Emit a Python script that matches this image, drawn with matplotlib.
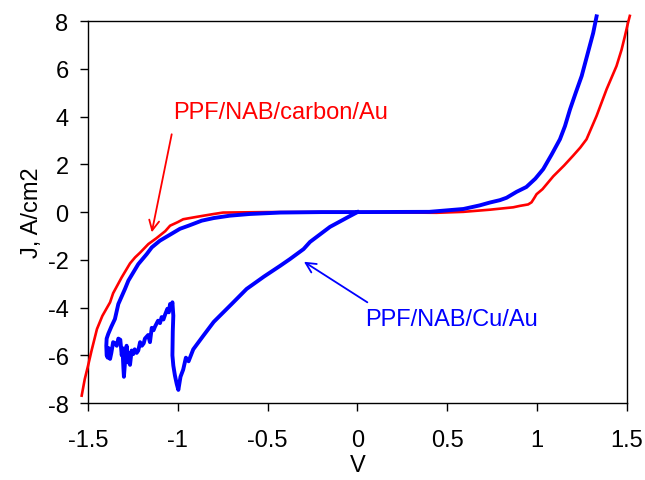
import matplotlib
matplotlib.use("Agg")
import matplotlib.pyplot as plt

plt.rcParams['font.family'] = ['Liberation Sans', 'DejaVu Sans']
plt.rcParams['axes.unicode_minus'] = False

# PPF/NAB/carbon/Au sweep
red_v = [-1.535, -1.518, -1.5, -1.48, -1.45, -1.42, -1.377, -1.36, -1.312, -1.266,
         -1.238, -1.21, -1.164, -1.12, -1.07, -1.043, -1.0, -0.97, -0.895, -0.8,
         -0.748, -0.5, 0.0, 0.44, 0.59, 0.737, 0.867, 0.904, 0.95, 0.969,
         0.985, 0.997, 1.03, 1.09, 1.15, 1.2, 1.24, 1.275, 1.331, 1.387,
         1.442, 1.47, 1.489, 1.505, 1.516]
red_j = [-7.69, -7.0, -6.45, -5.8, -4.9, -4.35, -3.78, -3.4, -2.73, -2.15,
         -1.9, -1.7, -1.34, -1.1, -0.8, -0.57, -0.42, -0.3, -0.2, -0.08,
         -0.02, 0.0, 0.0, -0.03, 0.01, 0.1, 0.2, 0.26, 0.32, 0.41,
         0.6, 0.75, 0.96, 1.5, 1.95, 2.36, 2.7, 3.05, 4.03, 5.15,
         6.12, 6.8, 7.38, 7.9, 8.22]

# PPF/NAB/Cu/Au sweep (lower branch, breakdown, noisy part, upper branch)
blue_v = [0.0, -0.05, -0.153, -0.264, -0.3, -0.376, -0.43, -0.52, -0.617, -0.7,
          -0.8, -0.86, -0.914, -0.94, -0.955, -0.97, -0.985, -0.997, -1.006, -1.016,
          -1.025, -1.03, -1.028, -1.025, -1.03, -1.036, -1.043, -1.05, -1.058, -1.071,
          -1.08, -1.09, -1.099, -1.11, -1.127, -1.135, -1.145, -1.155, -1.165, -1.183,
          -1.19, -1.2, -1.21, -1.22, -1.229, -1.24, -1.248, -1.257, -1.266, -1.27,
          -1.276, -1.285, -1.29, -1.3, -1.303, -1.308, -1.312, -1.32, -1.331, -1.34,
          -1.35, -1.36, -1.37, -1.377, -1.385, -1.39, -1.396, -1.398, -1.396, -1.387,
          -1.37, -1.35, -1.331, -1.294, -1.275, -1.22, -1.173, -1.145, -1.1, -1.053,
          -0.988, -0.94, -0.867, -0.8, -0.71, -0.6, -0.43, -0.2, 0.0, 0.4,
          0.59, 0.68, 0.737, 0.793, 0.83, 0.886, 0.94, 0.99, 1.034, 1.08,
          1.127, 1.155, 1.183, 1.215, 1.248, 1.28, 1.312, 1.331]
blue_j = [0.0, -0.2, -0.62, -1.25, -1.55, -1.97, -2.25, -2.7, -3.22, -3.85,
          -4.6, -5.2, -5.75, -6.25, -6.1, -6.6, -6.9, -7.45, -7.2, -6.85,
          -6.43, -6.0, -5.0, -4.34, -3.78, -3.95, -3.85, -4.2, -4.05, -4.3,
          -4.5, -4.4, -4.65, -4.55, -4.8, -4.95, -4.85, -5.45, -5.15, -5.3,
          -5.5, -5.6, -5.45, -5.8, -5.9, -5.75, -5.95, -5.8, -6.4, -5.9,
          -6.3, -5.6, -5.9, -6.9, -6.5, -5.7, -6.0, -5.35, -5.3, -5.6,
          -5.5, -5.45, -5.9, -6.15, -5.7, -6.1, -6.0, -5.6, -5.3, -5.1,
          -4.8, -4.48, -3.85, -3.22, -2.87, -2.18, -1.76, -1.48, -1.2, -0.99,
          -0.7, -0.57, -0.36, -0.25, -0.15, -0.08, -0.02, 0.0, 0.0, 0.01,
          0.13, 0.28, 0.4, 0.5, 0.6, 0.85, 1.05, 1.4, 1.8, 2.4,
          3.05, 3.6, 4.3, 5.0, 5.7, 6.6, 7.5, 8.2]

xticks = [-1.5, -1, -0.5, 0, 0.5, 1, 1.5]
xticklabels = ['-1.5', '-1', '-0.5', '0', '0.5', '1', '1.5']
yticks = [-8, -6, -4, -2, 0, 2, 4, 6, 8]

fig = plt.figure(figsize=(6.45, 4.81), dpi=100)
ax = fig.add_axes([0.1364, 0.160, 0.8356, 0.794])

ax.plot(red_v, red_j, color='#ff0000', lw=1.9, clip_on=False, zorder=3)
ax.plot(blue_v, blue_j, color='#0000ff', lw=2.8, clip_on=False, zorder=4)

ax.set_xlim(-1.5, 1.5)
ax.set_ylim(-8, 8)
ax.set_xticks(xticks)
ax.set_xticklabels(xticklabels)
ax.set_yticks(yticks)
ax.tick_params(direction='out', length=6, width=1, labelsize=17, colors='black')
ax.tick_params(axis='y', pad=8)
ax.tick_params(axis='x', pad=13)
for s in ax.spines.values():
    s.set_linewidth(1)
    s.set_color('black')

ax.set_xlabel('V', fontsize=17, labelpad=2)
ax.set_ylabel('J, A/cm2', fontsize=17, labelpad=3)

# labels and arrows
ax.text(-1.027, 4.2, 'PPF/NAB/carbon/Au', color='#ff0000', fontsize=17,
        va='center', ha='left')
ax.annotate('', xy=(-1.145, -0.85), xytext=(-1.034, 3.26),
            arrowprops=dict(arrowstyle='->', color='#ff0000', lw=1.3,
                            mutation_scale=18, shrinkA=0, shrinkB=0))
ax.text(0.042, -4.5, 'PPF/NAB/Cu/Au', color='#0000ff', fontsize=17,
        va='center', ha='left')
ax.annotate('', xy=(-0.298, -2.08), xytext=(0.055, -3.78),
            arrowprops=dict(arrowstyle='->', color='#0000ff', lw=1.3,
                            mutation_scale=18, shrinkA=0, shrinkB=0))

fig.savefig('out.png', dpi=100)
